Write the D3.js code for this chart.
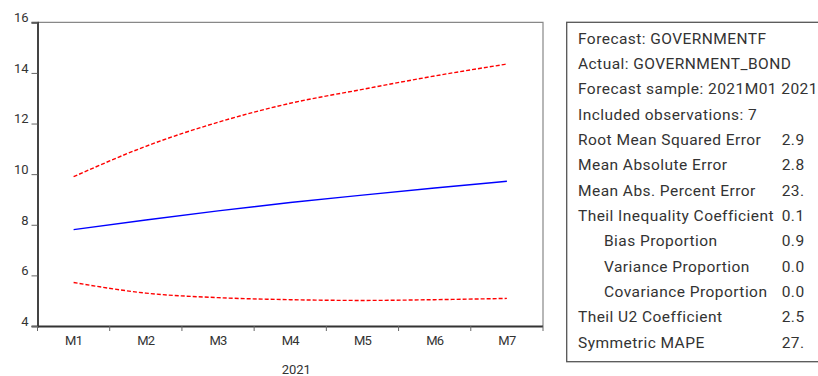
<!DOCTYPE html>
<html><head><meta charset="utf-8">
<script src="https://cdn.jsdelivr.net/npm/d3@7"></script>
<style>body{margin:0;background:#fff;overflow:hidden}svg{display:block}text{font-family:Roboto,"Liberation Sans",sans-serif;fill:#333}</style>
</head><body><svg id="c" width="818" height="376"></svg>
<script>
const categories = ["M1","M2","M3","M4","M5","M6","M7"];
const forecast = [7.81, 8.19, 8.55, 8.88, 9.17, 9.45, 9.72];
const upperBand = [9.90, 11.10, 12.05, 12.80, 13.35, 13.88, 14.35];
const lowerBand = [5.72, 5.30, 5.12, 5.04, 5.01, 5.04, 5.09];
const yTicks = [4, 6, 8, 10, 12, 14, 16];
const yearLabel = "2021";
const statLabels = ["Forecast: GOVERNMENTF","Actual: GOVERNMENT_BOND","Forecast sample: 2021M01 2021M07","Included observations: 7",
  "Root Mean Squared Error","Mean Absolute Error","Mean Abs. Percent Error","Theil Inequality Coefficient",
  "Bias Proportion","Variance Proportion","Covariance Proportion","Theil U2 Coefficient","Symmetric MAPE"];
const statValues = ["","","","","2.9","2.8","23.","0.1","0.9","0.0","0.0","2.5","27."];
const statIndent = [0,0,0,0,0,0,0,0,1,1,1,0,0];

const svg = d3.select("#c");
const L=37.5, R=543, T=22.3, B=326;
const x = d3.scaleBand().domain(categories).range([L,R]);
const y = d3.scaleLinear().domain([4,16]).range([B,T]);
const cx = d => x(d)+x.bandwidth()/2;

// frame top/right
svg.append("path").attr("d",`M${L},${T}H${R}V${B}`).attr("fill","none").attr("stroke","#888").attr("stroke-width",1.2);
// y axis
const ya = svg.append("g").attr("transform",`translate(${L},0)`).call(d3.axisLeft(y).tickValues(yTicks).tickSize(6).tickPadding(3).tickFormat(d3.format("d")));
ya.select(".domain").attr("stroke","#444").attr("stroke-width",2);
ya.selectAll(".tick line").attr("stroke","#666");
ya.selectAll("text").attr("font-size",13).attr("fill","#333").attr("font-family","Roboto").attr("dy","-0.05em");
// x axis
const xa = svg.append("g").attr("transform",`translate(0,${B})`).call(d3.axisBottom(x).tickSize(0).tickPadding(10));
xa.select(".domain").attr("stroke","#333").attr("stroke-width",2).attr("d",`M${L},0.5H${R}`);
xa.selectAll("text").attr("font-size",13).attr("fill","#333").attr("font-family","Roboto").attr("letter-spacing","-0.8px");
// x boundary ticks
const bounds = categories.map(c=>x(c)).concat([R]);
svg.append("g").selectAll("line").data(bounds).join("line")
  .attr("x1",d=>d).attr("x2",d=>d).attr("y1",B).attr("y2",B+5).attr("stroke","#666");
svg.append("text").attr("x",(L+R)/2+6).attr("y",374).attr("text-anchor","middle").attr("font-size",13).text(yearLabel);

const line = d3.line().x((d,i)=>cx(categories[i])).y(d=>y(d)).curve(d3.curveMonotoneX);
svg.append("path").attr("d",line(upperBand)).attr("fill","none").attr("stroke","#ff0000").attr("stroke-width",1.4).attr("stroke-dasharray","4,2");
svg.append("path").attr("d",line(lowerBand)).attr("fill","none").attr("stroke","#ff0000").attr("stroke-width",1.4).attr("stroke-dasharray","4,2");
svg.append("path").attr("d",line(forecast)).attr("fill","none").attr("stroke","#0000ff").attr("stroke-width",1.4);

// stats box
svg.append("rect").attr("x",566.7).attr("y",22.3).attr("width",400).attr("height",339.4).attr("fill","none").attr("stroke","#555").attr("stroke-width",1.3);
const g = svg.append("g");
statLabels.forEach((s,i)=>{
  const yy = 38.3 + i*25.33;
  g.append("text").attr("x",578 + statIndent[i]*26).attr("y",yy).attr("dy","0.35em").attr("font-size",15.5).attr("letter-spacing","0.45px").attr("fill","#222").text(s);
  if(statValues[i]) g.append("text").attr("x",781.7).attr("y",yy).attr("dy","0.35em").attr("font-size",15.5).attr("letter-spacing","0.45px").attr("fill","#222").text(statValues[i]);
});
</script></body></html>
